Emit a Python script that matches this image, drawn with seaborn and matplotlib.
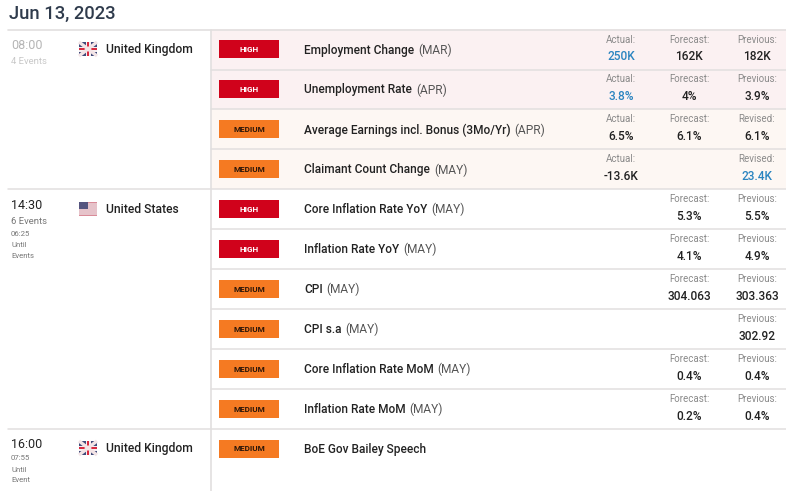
import pandas as pd
import matplotlib.pyplot as plt
from matplotlib.patches import Rectangle
import seaborn as sns

sns.set_theme(style="white")
plt.rcParams['font.family'] = ['Roboto', 'DejaVu Sans']

date_title = "Jun 13, 2023"
events = ["Employment Change", "Unemployment Rate", "Average Earnings incl. Bonus (3Mo/Yr)",
          "Claimant Count Change", "Core Inflation Rate YoY", "Inflation Rate YoY", "CPI",
          "CPI s.a", "Core Inflation Rate MoM", "Inflation Rate MoM", "BoE Gov Bailey Speech"]
periods = ["MAR", "APR", "APR", "MAY", "MAY", "MAY", "MAY", "MAY", "MAY", "MAY", ""]
impact = ["HIGH", "HIGH", "MEDIUM", "MEDIUM", "HIGH", "HIGH", "MEDIUM", "MEDIUM", "MEDIUM", "MEDIUM", "MEDIUM"]
actual = ["250K", "3.8%", "6.5%", "-13.6K", "", "", "", "", "", "", ""]
forecast = ["162K", "4%", "6.1%", "", "5.3%", "4.1%", "304.063", "", "0.4%", "0.2%", ""]
last_label = ["Previous:", "Previous:", "Revised:", "Revised:", "Previous:", "Previous:",
              "Previous:", "Previous:", "Previous:", "Previous:", ""]
last_value = ["182K", "3.9%", "6.1%", "23.4K", "5.5%", "4.9%", "303.363", "302.92", "0.4%", "0.4%", ""]
blue_values = ["250K", "3.8%", "23.4K"]

RED = "#d0021b"
ORANGE = "#f57a22"
LINE = "#e2dfdf"
DARK = "#222222"
GREY = "#8a8a8a"

df = pd.DataFrame({"event": events, "impact": impact, "row": range(len(events))})
df["chip"] = 60
df["band"] = 575

fig = plt.figure(figsize=(7.86, 4.91), dpi=100)

# panel with the event rows, one unit per row
panel = fig.add_axes([211 / 786, 0.75 / 491, 575 / 786, 461 / 491])
shaded = df[df.row < 4]
sns.barplot(data=shaded, x="band", y="event", order=events, hue="impact", dodge=False, orient="y",
            palette={"HIGH": "#fbf1f2", "MEDIUM": "#fdf7f3"}, width=1, left=0, legend=False,
            saturation=1, linewidth=0, ax=panel)
sns.barplot(data=df, x="chip", y="event", order=events, hue="impact", dodge=False, orient="y",
            palette={"HIGH": RED, "MEDIUM": ORANGE}, width=0.45, left=8, legend=False,
            saturation=1, linewidth=0, ax=panel)
panel.set_xlim(0, 575)
panel.set_ylim(11.04, -0.5)
panel.axis("off")

# overlay in pixel coordinates for the text and rules
ax = fig.add_axes([0, 0, 1, 1], facecolor="none")
ax.set_xlim(0, 786)
ax.set_ylim(491, 0)
ax.axis("off")


def row_y(i):
    return 49.5 + 39.95 * i


ax.text(9, 14, date_title, fontsize=13.2, fontweight="medium", color="#2f3b4c", va="center")
ax.plot([8, 786], [29.5, 29.5], color=LINE, lw=1.2)
ax.plot([211, 211], [30, 491], color=LINE, lw=1.2)
for i in range(len(events) - 1):
    y = row_y(i) + 20
    x0 = 8 if i in (3, 9) else 211
    ax.plot([x0, 786], [y, y], color=LINE, lw=1.1)


def uk_flag(x, y):
    w, h = 18, 14
    ax.add_patch(Rectangle((x, y), w, h, color="#3f4a7a", lw=0))
    for a, b in [((x, y), (x + w, y + h)), ((x + w, y), (x, y + h))]:
        ax.plot([a[0], b[0]], [a[1], b[1]], color="#f3e4e6", lw=2.4, solid_capstyle="butt")
    ax.add_patch(Rectangle((x + 6.5, y), 5, h, color="#f6eef0", lw=0))
    ax.add_patch(Rectangle((x, y + 4.5), w, 5, color="#f6eef0", lw=0))
    ax.add_patch(Rectangle((x + 7.7, y), 2.6, h, color="#d8293f", lw=0))
    ax.add_patch(Rectangle((x, y + 5.7), w, 2.6, color="#d8293f", lw=0))


def us_flag(x, y):
    w, h = 18, 14
    ax.add_patch(Rectangle((x, y), w, h, color="#e6c3ca", lw=0))
    ax.add_patch(Rectangle((x, y + h - 1), w, 1, color="#d98b98", lw=0))
    ax.add_patch(Rectangle((x, y), w, 1, color="#d98b98", lw=0))
    ax.add_patch(Rectangle((x, y), 9, 7, color="#55557f", lw=0))


uk_flag(79, 42)
us_flag(79, 202)
uk_flag(79, 441)

ax.text(106, 49.5, "United Kingdom", fontsize=8.7, fontweight="medium", color=DARK, va="center")
ax.text(106, 209.5, "United States", fontsize=8.7, fontweight="medium", color=DARK, va="center")
ax.text(106, 448.5, "United Kingdom", fontsize=8.7, fontweight="medium", color=DARK, va="center")

ax.text(11, 45.5, "08:00", fontsize=9, color="#b5b5b5", va="center")
ax.text(11, 61.5, "4 Events", fontsize=6.8, color="#c8c8c8", va="center")
ax.text(11, 205.5, "14:30", fontsize=9, color=DARK, va="center")
ax.text(11, 221.5, "6 Events", fontsize=6.8, color="#777777", va="center")
for y, s in zip([234, 245, 255.5], ["06:25", "Until", "Events"]):
    ax.text(11, y, s, fontsize=5.6, color="#777777", va="center")
ax.text(11, 444.5, "16:00", fontsize=9, color=DARK, va="center")
for y, s in zip([458.5, 469.5, 480.5], ["07:55", "Until", "Event"]):
    ax.text(11, y, s, fontsize=5.6, color="#777777", va="center")

renderer = fig.canvas.get_renderer()
inv = ax.transData.inverted()
for i, name in enumerate(events):
    y = row_y(i) - (0.5 if i == 10 else 0)
    ax.text(249, y, impact[i], fontsize=5.9, fontweight="bold", ha="center", va="center",
            color="white" if impact[i] == "HIGH" else "#2a1508")
    t = ax.text(304, y - 1, name, fontsize=8.6, fontweight="medium", color=DARK, va="center_baseline")
    if periods[i]:
        x1 = inv.transform(t.get_window_extent(renderer).get_points())[1, 0]
        ax.text(x1 + 4, y - 1, f"({periods[i]})", fontsize=8.6, color="#555555", va="center_baseline")

    cols = [(621, "Actual:", actual[i]), (689, "Forecast:", forecast[i]), (757, last_label[i], last_value[i])]
    label_y = y - 10
    value_y = y + 7
    for x, label, value in cols:
        if not value:
            continue
        ax.text(x, label_y, label, fontsize=7, color=GREY, ha="center", va="center")
        ax.text(x, value_y, value, fontsize=8.6, fontweight="medium", ha="center", va="center",
                color="#2a84c0" if value in blue_values else DARK)

fig.savefig("out.png", dpi=100)
